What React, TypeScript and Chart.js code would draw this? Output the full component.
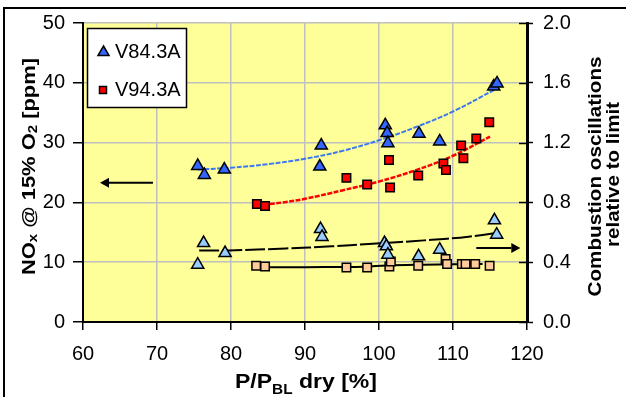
import React, { useEffect, useRef } from 'react';
import { Chart, registerables } from 'chart.js';

Chart.register(...registerables);

const FONT = '"Liberation Sans", Arial, Helvetica, sans-serif';

// ---- Data ----
const v84X = [75.5, 76.4, 79.1, 92.0, 92.2, 100.85, 101.1, 101.2, 105.4, 108.2, 115.5, 115.95];
const v84NOx = [26.1, 24.6, 25.5, 26.0, 29.5, 32.9, 31.6, 29.9, 31.5, 30.2, 39.4, 39.9];

const v94X = [83.5, 84.6, 95.6, 98.4, 101.35, 101.5, 105.3, 108.7, 109.05, 111.1, 111.4, 113.15, 114.9];
const v94NOx = [19.75, 19.4, 24.1, 23.0, 27.1, 22.5, 24.5, 26.5, 25.4, 29.5, 27.4, 30.7, 33.4];

const v84OscX = [75.5, 76.3, 79.2, 92.1, 92.3, 100.75, 101.0, 101.2, 105.35, 108.2, 115.6, 115.9];
const v84Osc = [0.383, 0.528, 0.461, 0.622, 0.569, 0.528, 0.506, 0.45, 0.439, 0.484, 0.68, 0.584];

const v94OscX = [83.4, 84.6, 95.6, 98.4, 101.4, 101.6, 105.3, 109.0, 109.2, 111.2, 111.7, 113.0, 114.95];
const v94Osc = [0.377, 0.372, 0.365, 0.365, 0.372, 0.405, 0.377, 0.421, 0.388, 0.388, 0.388, 0.388, 0.377];

// trend lines
const v84TrendX = [75.5, 80, 85, 90, 95, 100, 105, 110, 115.7];
const v84TrendNOx = [25.5, 25.8, 26.4, 27.3, 28.6, 30.4, 32.6, 35.2, 38.9];

const v94TrendX = [83.5, 87, 90, 95, 100, 105, 110, 115];
const v94TrendNOx = [19.5, 20.0, 20.6, 22.0, 23.5, 25.4, 27.8, 31.0];

const v84OscTrendX = [75.7, 79.7, 87.4, 93.6, 98.6, 102.9, 106.1, 109.2, 112.1, 115.9];
const v84OscTrend = [0.479, 0.479, 0.492, 0.506, 0.522, 0.535, 0.546, 0.557, 0.571, 0.595];

const v94OscTrendX = [84.2, 90, 98, 101, 106, 114];
const v94OscTrend = [0.366, 0.367, 0.37, 0.378, 0.383, 0.388];

// arrows: [fromX, toX, value]
const noxArrow = [69.45, 62.3, 23.3];
const oscArrow = [113.15, 119.1, 0.495];

const seriesNames = ['V84.3A', 'V94.3A'];

const pts = (xs: number[], ys: number[]) => xs.map((x, i) => ({ x, y: ys[i] }));

type Part = { t: string; sub?: boolean };

function drawRich(
  ctx: CanvasRenderingContext2D,
  parts: Part[],
  size: number,
  subSize: number,
  subShift: number,
  targetW: number
) {
  const f = (s: number) => `bold ${s}px ${FONT}`;
  let w = 0;
  const widths: number[] = [];
  parts.forEach((p) => {
    ctx.font = f(p.sub ? subSize : size);
    const m = ctx.measureText(p.t).width;
    widths.push(m);
    w += m;
  });
  const sx = targetW > 0 ? targetW / w : 1;
  ctx.save();
  ctx.scale(sx, 1);
  ctx.fillStyle = '#000';
  ctx.textBaseline = 'alphabetic';
  ctx.textAlign = 'left';
  let x = -w / 2;
  parts.forEach((p, i) => {
    ctx.font = f(p.sub ? subSize : size);
    ctx.fillText(p.t, x, p.sub ? subShift : 0);
    x += widths[i];
  });
  ctx.restore();
}

const bgPlugin = {
  id: 'bg',
  beforeDraw(chart: any) {
    const { ctx, chartArea: a } = chart;
    ctx.save();
    ctx.fillStyle = '#ffffff';
    ctx.fillRect(0, 0, chart.width, chart.height);
    ctx.fillStyle = '#FFFF99';
    ctx.fillRect(a.left, a.top, a.right - a.left, a.bottom - a.top);
    ctx.restore();
  },
};

function drawArrow(ctx: CanvasRenderingContext2D, x1: number, x2: number, y: number) {
  const dir = x2 > x1 ? 1 : -1;
  const head = 9;
  ctx.save();
  ctx.strokeStyle = '#000';
  ctx.fillStyle = '#000';
  ctx.lineWidth = 2;
  ctx.beginPath();
  ctx.moveTo(x1, y);
  ctx.lineTo(x2 - dir * head, y);
  ctx.stroke();
  ctx.beginPath();
  ctx.moveTo(x2, y);
  ctx.lineTo(x2 - dir * head, y - 5);
  ctx.lineTo(x2 - dir * head, y + 5);
  ctx.closePath();
  ctx.fill();
  ctx.restore();
}

const overlayPlugin = {
  id: 'overlay',
  afterDraw(chart: any) {
    const { ctx, chartArea: a, scales } = chart;
    const sx = scales.x;
    const sy = scales.y;
    const sy2 = scales.y2;

    // inner ticks of right axis
    ctx.save();
    ctx.strokeStyle = '#000';
    ctx.lineWidth = 1.5;
    sy2.ticks.forEach((t: any) => {
      const p = Math.round(sy2.getPixelForValue(t.value)) + 0.5;
      ctx.beginPath();
      ctx.moveTo(a.right - 8, p);
      ctx.lineTo(a.right, p);
      ctx.stroke();
    });
    ctx.restore();

    // arrows
    drawArrow(ctx, sx.getPixelForValue(noxArrow[0]), sx.getPixelForValue(noxArrow[1]), sy.getPixelForValue(noxArrow[2]));
    drawArrow(ctx, sx.getPixelForValue(oscArrow[0]), sx.getPixelForValue(oscArrow[1]), sy2.getPixelForValue(oscArrow[2]));

    // legend
    ctx.save();
    const lx = a.left + 4;
    const ly = a.top + 5;
    ctx.fillStyle = '#fff';
    ctx.fillRect(lx, ly, 100, 80);
    ctx.strokeStyle = '#000';
    ctx.lineWidth = 1.5;
    ctx.strokeRect(lx + 0.5, ly + 0.5, 99, 79);
    // triangle
    const tx = lx + 16.5, ty = ly + 24;
    ctx.beginPath();
    ctx.moveTo(tx, ty - 6);
    ctx.lineTo(tx + 5.5, ty + 3.5);
    ctx.lineTo(tx - 5.5, ty + 3.5);
    ctx.closePath();
    ctx.fillStyle = '#3366FF';
    ctx.fill();
    ctx.lineWidth = 1.5;
    ctx.strokeStyle = '#000';
    ctx.stroke();
    // square
    const qx = lx + 16, qy = ly + 62;
    ctx.fillStyle = '#FF0000';
    ctx.fillRect(qx - 3.5, qy - 3.5, 7, 7);
    ctx.strokeRect(qx - 3.5, qy - 3.5, 7, 7);
    ctx.fillStyle = '#000';
    ctx.font = `20px ${FONT}`;
    ctx.textBaseline = 'middle';
    ctx.textAlign = 'left';
    ctx.fillText(seriesNames[0], lx + 28, ty + 0.5);
    ctx.fillText(seriesNames[1], lx + 28, qy + 0.5);
    ctx.restore();

    // left axis title
    ctx.save();
    ctx.translate(35, (a.top + a.bottom) / 2 - 6);
    ctx.rotate(-Math.PI / 2);
    drawRich(
      ctx,
      [{ t: 'NO' }, { t: 'x', sub: true }, { t: ' @ 15% O' }, { t: '2', sub: true }, { t: ' [ppm]' }],
      19, 13, 2, 217
    );
    ctx.restore();

    // bottom axis title
    ctx.save();
    ctx.translate(306, 388);
    drawRich(ctx, [{ t: 'P/P' }, { t: 'BL', sub: true }, { t: ' dry [%]' }], 21, 14, 6, 142);
    ctx.restore();

    // right axis title (two lines)
    ctx.save();
    ctx.translate(601, (a.top + a.bottom) / 2 + 4);
    ctx.rotate(-Math.PI / 2);
    drawRich(ctx, [{ t: 'Combustion oscillations' }], 18, 18, 0, 240);
    ctx.restore();
    ctx.save();
    ctx.translate(619, (a.top + a.bottom) / 2 + 2);
    ctx.rotate(-Math.PI / 2);
    drawRich(ctx, [{ t: 'relative to limit' }], 18, 18, 0, 145);
    ctx.restore();

    // outer frame (top and left edges)
    ctx.save();
    ctx.strokeStyle = '#000';
    ctx.lineWidth = 2;
    ctx.beginPath();
    ctx.moveTo(4, chart.height);
    ctx.lineTo(4, 8);
    ctx.lineTo(chart.width, 8);
    ctx.stroke();
    ctx.restore();
  },
};

export default function App() {
  const ref = useRef<HTMLCanvasElement>(null);

  useEffect(() => {
    const canvas = ref.current;
    if (!canvas) return;
    const tickFont = { family: FONT, size: 20 };
    const chart = new Chart(canvas, {
      type: 'scatter',
      data: {
        datasets: [
          {
            label: seriesNames[0],
            data: pts(v84X, v84NOx),
            yAxisID: 'y',
            pointStyle: 'triangle',
            pointRadius: 7,
            backgroundColor: '#3366FF',
            borderColor: '#000',
            borderWidth: 1.5,
          },
          {
            label: seriesNames[1],
            data: pts(v94X, v94NOx),
            yAxisID: 'y',
            pointStyle: 'rect',
            pointRadius: 6,
            backgroundColor: '#FF0000',
            borderColor: '#000',
            borderWidth: 1.5,
          },
          {
            label: seriesNames[0] + ' osc',
            data: pts(v84OscX, v84Osc),
            yAxisID: 'y2',
            pointStyle: 'triangle',
            pointRadius: 7,
            backgroundColor: '#99CCFF',
            borderColor: '#000',
            borderWidth: 1.5,
          },
          {
            label: seriesNames[1] + ' osc',
            data: pts(v94OscX, v94Osc),
            yAxisID: 'y2',
            pointStyle: 'rect',
            pointRadius: 6,
            backgroundColor: '#FFCC99',
            borderColor: '#000',
            borderWidth: 1.5,
          },
          {
            label: 'trend 84',
            data: pts(v84TrendX, v84TrendNOx),
            yAxisID: 'y',
            showLine: true,
            pointRadius: 0,
            borderColor: '#3D78F0',
            borderWidth: 2,
            borderDash: [5, 1.5],
            tension: 0.4,
          },
          {
            label: 'trend 94',
            data: pts(v94TrendX, v94TrendNOx),
            yAxisID: 'y',
            showLine: true,
            pointRadius: 0,
            borderColor: '#FF0000',
            borderWidth: 2.5,
            borderDash: [5, 1.5],
            tension: 0.4,
          },
          {
            label: 'osc trend 84',
            data: pts(v84OscTrendX, v84OscTrend),
            yAxisID: 'y2',
            showLine: true,
            pointRadius: 0,
            borderColor: '#000',
            borderWidth: 2,
            borderDash: [20, 3],
            tension: 0.4,
          },
          {
            label: 'osc trend 94',
            data: pts(v94OscTrendX, v94OscTrend),
            yAxisID: 'y2',
            showLine: true,
            pointRadius: 0,
            borderColor: '#000',
            borderWidth: 2,
            tension: 0.4,
          },
        ],
      },
      options: {
        responsive: false,
        animation: false,
        devicePixelRatio: 1,
        layout: { padding: { top: 23, left: 0, right: 0, bottom: 0 } },
        plugins: { legend: { display: false }, tooltip: { enabled: false } },
        scales: {
          x: {
            type: 'linear',
            position: 'bottom',
            min: 60,
            max: 120,
            ticks: { stepSize: 10, font: tickFont, color: '#000', padding: 12 },
            grid: { color: '#C0C0C0', lineWidth: 1.5, tickColor: '#000', tickLength: 8, tickWidth: 1.5 },
            border: { color: '#000', width: 2 },
            afterFit: (s: any) => {
              s.height = 75;
            },
          },
          y: {
            type: 'linear',
            position: 'left',
            min: 0,
            max: 50,
            ticks: { stepSize: 10, font: tickFont, color: '#000', padding: 8 },
            grid: { color: '#C0C0C0', lineWidth: 1.5, tickColor: '#000', tickLength: 10, tickWidth: 1.5 },
            border: { color: '#000', width: 2 },
            afterFit: (s: any) => {
              s.width = 83;
            },
          },
          y2: {
            type: 'linear',
            position: 'right',
            min: 0,
            max: 2,
            ticks: {
              stepSize: 0.4,
              font: tickFont,
              color: '#000',
              padding: 10,
              callback: (v: any) => Number(v).toFixed(1),
            },
            grid: { drawOnChartArea: false, tickColor: '#000', tickLength: 6, tickWidth: 1.5 },
            border: { color: '#000', width: 3 },
            afterFit: (s: any) => {
              s.width = 99;
            },
          },
        },
      } as any,
      plugins: [bgPlugin, overlayPlugin],
    });
    return () => chart.destroy();
  }, []);

  return (
    <div style={{ position: 'fixed', left: 0, top: 0, width: 626, height: 397, background: '#fff' }}>
      <canvas ref={ref} width={626} height={397} style={{ display: 'block' }} />
    </div>
  );
}
